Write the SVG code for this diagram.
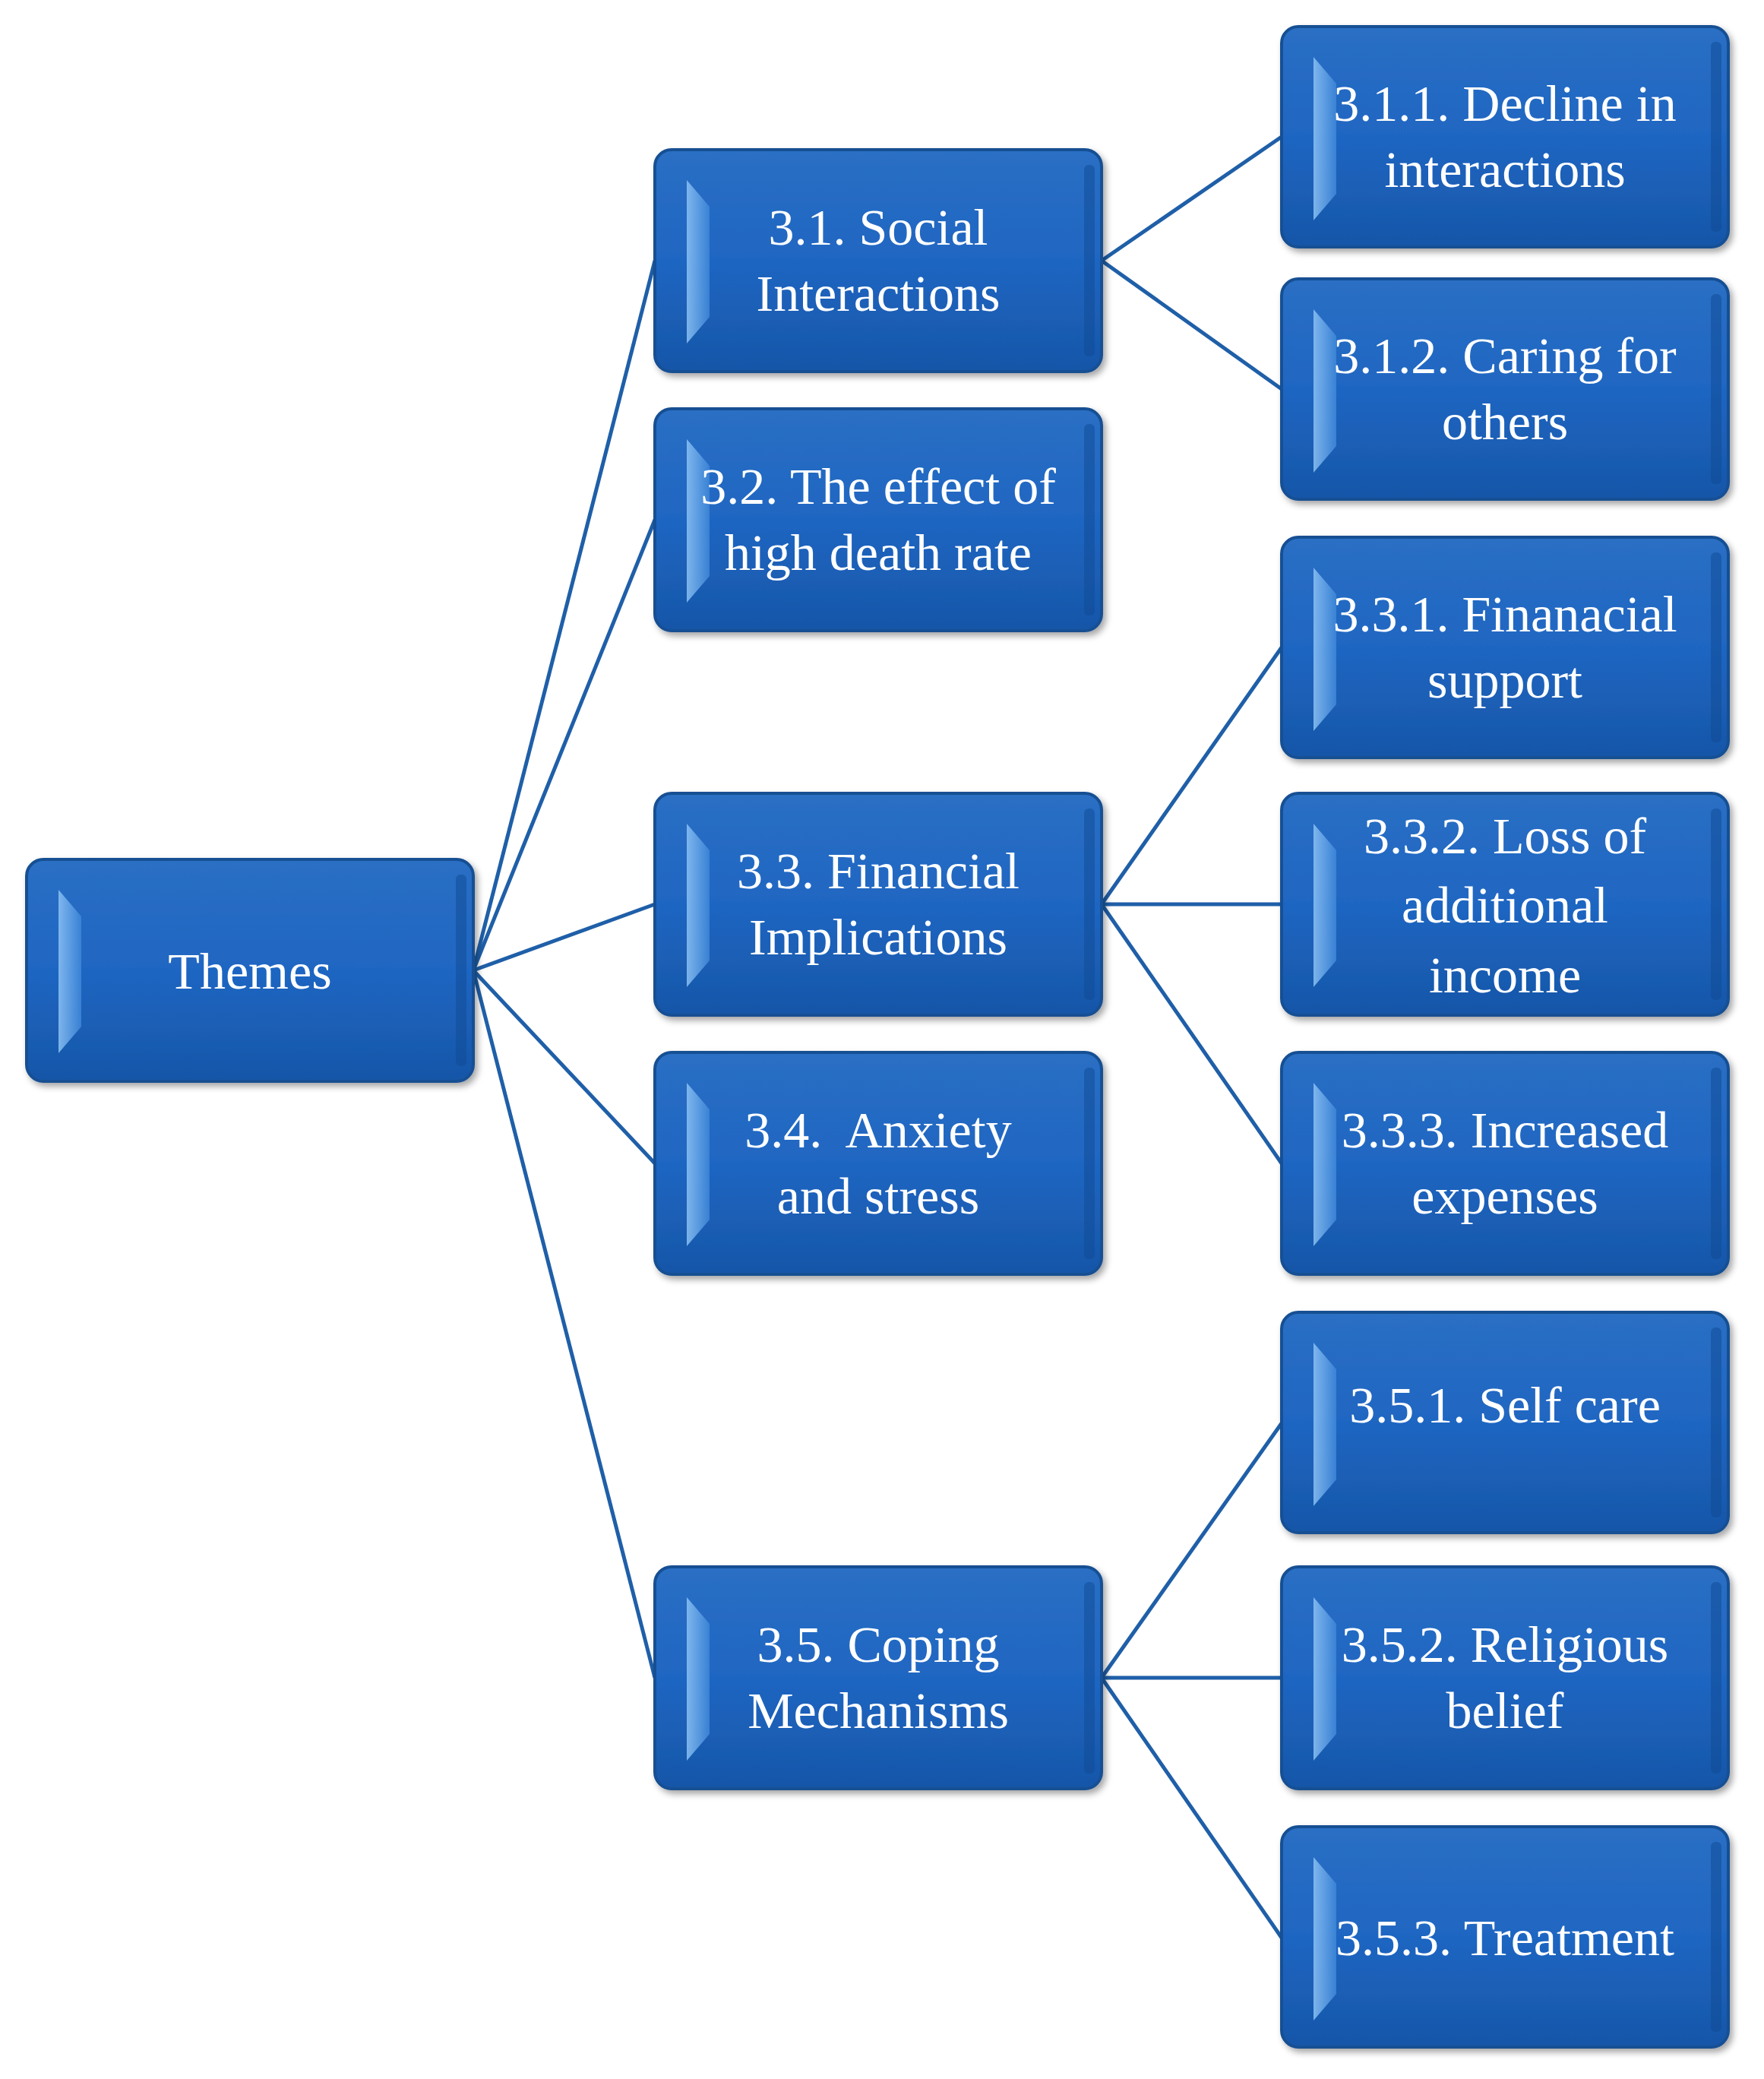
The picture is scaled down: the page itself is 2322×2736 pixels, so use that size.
<svg xmlns="http://www.w3.org/2000/svg" width="2322" height="2736" viewBox="0 0 2322 2736">
<defs>
<linearGradient id="g" x1="0" y1="0" x2="0" y2="1">
<stop offset="0" stop-color="#2a6fc4"/><stop offset="0.5" stop-color="#1f66c2"/><stop offset="1" stop-color="#1656a8"/>
</linearGradient>
<linearGradient id="hl" x1="0" y1="0" x2="1" y2="0">
<stop offset="0" stop-color="#8ec3f5"/><stop offset="1" stop-color="#3d86d8"/>
</linearGradient>
<filter id="sh" x="-5%" y="-5%" width="115%" height="120%"><feDropShadow dx="4" dy="5" stdDeviation="4" flood-color="#000" flood-opacity="0.35"/></filter>
</defs>
<style>
.b{fill:url(#g);stroke:#174f93;stroke-width:4;filter:url(#sh)}
.h{fill:url(#hl);opacity:0.85}
.r{fill:#0f4a94;opacity:0.5}
.t{font-family:"Liberation Serif",serif;font-size:68px;fill:#fff;text-anchor:middle}
.c{stroke:#1f5fa8;stroke-width:5;fill:none}
</style>
<rect width="2322" height="2736" fill="#fff"/>
<g id="connectors">
<line class="c" x1="623" y1="1277" x2="862" y2="343"/>
<line class="c" x1="623" y1="1277" x2="862" y2="684"/>
<line class="c" x1="623" y1="1277" x2="862" y2="1190"/>
<line class="c" x1="623" y1="1277" x2="862" y2="1531"/>
<line class="c" x1="623" y1="1277" x2="862" y2="2208"/>
<line class="c" x1="1450" y1="343" x2="1687" y2="180"/>
<line class="c" x1="1450" y1="343" x2="1687" y2="512"/>
<line class="c" x1="1450" y1="1190" x2="1687" y2="852"/>
<line class="c" x1="1450" y1="1190" x2="1687" y2="1190"/>
<line class="c" x1="1450" y1="1190" x2="1687" y2="1531"/>
<line class="c" x1="1450" y1="2208" x2="1687" y2="1873"/>
<line class="c" x1="1450" y1="2208" x2="1687" y2="2208"/>
<line class="c" x1="1450" y1="2208" x2="1687" y2="2550"/>
</g>
<g id="themes" transform="translate(35,1131)">
<rect class="b" width="588" height="292" rx="22"/><polygon class="h" points="42,40 72,75 72,220 42,255"/><rect class="r" x="565" y="20" width="14" height="252" rx="6"/>
<text class="t" x="294" y="170">Themes</text></g>
<g id="n31" transform="translate(862,197)">
<rect class="b" width="588" height="292" rx="22"/><polygon class="h" points="42,40 72,75 72,220 42,255"/><rect class="r" x="565" y="20" width="14" height="252" rx="6"/>
<text class="t" x="294" y="125">3.1. Social</text><text class="t" x="294" y="212">Interactions</text></g>
<g id="n32" transform="translate(862,538)">
<rect class="b" width="588" height="292" rx="22"/><polygon class="h" points="42,40 72,75 72,220 42,255"/><rect class="r" x="565" y="20" width="14" height="252" rx="6"/>
<text class="t" x="294" y="125">3.2. The effect of</text><text class="t" x="294" y="212">high death rate</text></g>
<g id="n33" transform="translate(862,1044)">
<rect class="b" width="588" height="292" rx="22"/><polygon class="h" points="42,40 72,75 72,220 42,255"/><rect class="r" x="565" y="20" width="14" height="252" rx="6"/>
<text class="t" x="294" y="125">3.3. Financial</text><text class="t" x="294" y="212">Implications</text></g>
<g id="n34" transform="translate(862,1385)">
<rect class="b" width="588" height="292" rx="22"/><polygon class="h" points="42,40 72,75 72,220 42,255"/><rect class="r" x="565" y="20" width="14" height="252" rx="6"/>
<text class="t" x="294" y="125" xml:space="preserve">3.4.  Anxiety</text><text class="t" x="294" y="212">and stress</text></g>
<g id="n35" transform="translate(862,2062)">
<rect class="b" width="588" height="292" rx="22"/><polygon class="h" points="42,40 72,75 72,220 42,255"/><rect class="r" x="565" y="20" width="14" height="252" rx="6"/>
<text class="t" x="294" y="125">3.5. Coping</text><text class="t" x="294" y="212">Mechanisms</text></g>
<g id="n311" transform="translate(1687,35)">
<rect class="b" width="588" height="290" rx="22"/><polygon class="h" points="42,40 72,75 72,220 42,255"/><rect class="r" x="565" y="20" width="14" height="250" rx="6"/>
<text class="t" x="294" y="124">3.1.1. Decline in</text><text class="t" x="294" y="211">interactions</text></g>
<g id="n312" transform="translate(1687,367)">
<rect class="b" width="588" height="290" rx="22"/><polygon class="h" points="42,40 72,75 72,220 42,255"/><rect class="r" x="565" y="20" width="14" height="250" rx="6"/>
<text class="t" x="294" y="124">3.1.2. Caring for</text><text class="t" x="294" y="211">others</text></g>
<g id="n331" transform="translate(1687,707)">
<rect class="b" width="588" height="290" rx="22"/><polygon class="h" points="42,40 72,75 72,220 42,255"/><rect class="r" x="565" y="20" width="14" height="250" rx="6"/>
<text class="t" x="294" y="124">3.3.1. Finanacial</text><text class="t" x="294" y="211">support</text></g>
<g id="n332" transform="translate(1687,1044)">
<rect class="b" width="588" height="292" rx="22"/><polygon class="h" points="42,40 72,75 72,220 42,255"/><rect class="r" x="565" y="20" width="14" height="252" rx="6"/>
<text class="t" x="294" y="79">3.3.2. Loss of</text><text class="t" x="294" y="170">additional</text><text class="t" x="294" y="262">income</text></g>
<g id="n333" transform="translate(1687,1385)">
<rect class="b" width="588" height="292" rx="22"/><polygon class="h" points="42,40 72,75 72,220 42,255"/><rect class="r" x="565" y="20" width="14" height="252" rx="6"/>
<text class="t" x="294" y="125">3.3.3. Increased</text><text class="t" x="294" y="212">expenses</text></g>
<g id="n351" transform="translate(1687,1727)">
<rect class="b" width="588" height="290" rx="22"/><polygon class="h" points="42,40 72,75 72,220 42,255"/><rect class="r" x="565" y="20" width="14" height="250" rx="6"/>
<text class="t" x="294" y="145">3.5.1. Self care</text></g>
<g id="n352" transform="translate(1687,2062)">
<rect class="b" width="588" height="292" rx="22"/><polygon class="h" points="42,40 72,75 72,220 42,255"/><rect class="r" x="565" y="20" width="14" height="252" rx="6"/>
<text class="t" x="294" y="125">3.5.2. Religious</text><text class="t" x="294" y="212">belief</text></g>
<g id="n353" transform="translate(1687,2404)">
<rect class="b" width="588" height="290" rx="22"/><polygon class="h" points="42,40 72,75 72,220 42,255"/><rect class="r" x="565" y="20" width="14" height="250" rx="6"/>
<text class="t" x="294" y="169">3.5.3. Treatment</text></g>
</svg>
